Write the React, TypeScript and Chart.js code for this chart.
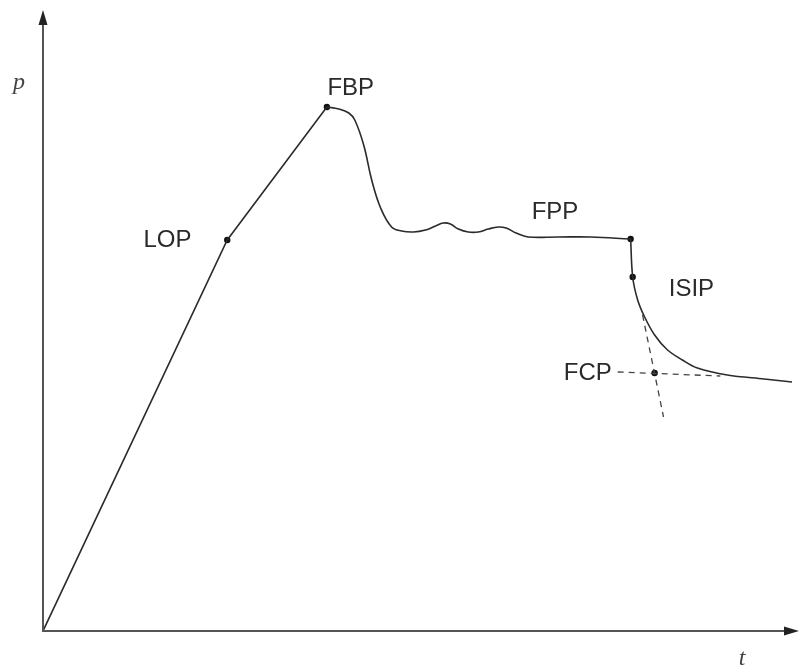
import React, { useEffect, useRef } from "react";
import { Chart, registerables } from "chart.js";

Chart.register(...registerables);

// Pressure (p) versus time (t) during a fracture test, normalised to 0–100.
const riseT = [0, 24.37, 37.55];
const riseP = [0, 62.96, 84.38];

const plateauT = [37.55, 39.13, 40.45, 41.24, 42.42, 43.48, 44.66, 46.11, 47.43, 49.01, 50.59, 51.91, 52.96, 53.89, 54.94, 56.26, 57.58, 58.89, 60.21, 61.26, 62.58, 64.16, 68.12, 72.46, 77.73];
const plateauP = [84.38, 84.06, 83.41, 82.29, 78.26, 72.62, 68.12, 65.06, 64.41, 64.25, 64.57, 65.22, 65.7, 65.54, 64.73, 64.25, 64.25, 64.73, 65.06, 64.9, 64.09, 63.45, 63.45, 63.45, 63.12];

const declineT = [77.73, 78.0, 78.66, 79.58, 80.9, 82.61, 84.58, 86.56, 90.51, 95.39, 99.08];
const declineP = [63.12, 57.0, 53.3, 50.56, 47.67, 45.25, 43.64, 42.35, 41.22, 40.58, 40.1];

// Tangent construction lines meeting at the closure point
const tangentHT = [76.02, 89.59];
const tangentHP = [41.71, 41.06];
const tangentVT = [79.31, 82.08];
const tangentVP = [50.89, 34.46];

// Marked points on the curve
const markT = [24.37, 37.55, 77.73, 78.0, 80.9];
const markP = [62.96, 84.38, 63.12, 57.0, 41.55];

// Point labels and where they are written
const labelText = ["LOP", "FBP", "FPP", "ISIP", "FCP"];
const labelT = [16.47, 40.71, 67.72, 85.77, 72.07];
const labelP = [62.96, 87.44, 67.47, 55.07, 41.55];

const xAxisTitle = "t";
const yAxisTitle = "p";

const zip = (xs: number[], ys: number[]) => xs.map((x, i) => ({ x, y: ys[i] }));

const axesPlugin = {
  id: "arrowAxes",
  afterDraw(chart: any) {
    const { ctx, chartArea } = chart;
    const { left, right, top, bottom } = chartArea;
    ctx.save();
    ctx.strokeStyle = "#555";
    ctx.fillStyle = "#222";
    ctx.lineWidth = 2;
    // vertical axis
    ctx.beginPath();
    ctx.moveTo(left, bottom + 1);
    ctx.lineTo(left, top + 12);
    ctx.stroke();
    ctx.beginPath();
    ctx.moveTo(left, top);
    ctx.lineTo(left - 4.5, top + 15);
    ctx.lineTo(left + 4.5, top + 15);
    ctx.closePath();
    ctx.fill();
    // horizontal axis
    ctx.beginPath();
    ctx.moveTo(left - 1, bottom);
    ctx.lineTo(right - 12, bottom);
    ctx.stroke();
    ctx.beginPath();
    ctx.moveTo(right, bottom);
    ctx.lineTo(right - 15, bottom - 4.5);
    ctx.lineTo(right - 15, bottom + 4.5);
    ctx.closePath();
    ctx.fill();

    // axis titles
    ctx.fillStyle = "#444";
    ctx.font = "italic 24px 'Liberation Serif', 'DejaVu Serif', serif";
    ctx.textAlign = "center";
    ctx.textBaseline = "middle";
    ctx.fillText(yAxisTitle, 19, 83);
    ctx.fillText(xAxisTitle, 742, 659);

    // point labels
    const xs = chart.scales.x;
    const ys = chart.scales.y;
    ctx.fillStyle = "#2a2a2a";
    ctx.font = "24px 'Liberation Sans', Arial, sans-serif";
    labelText.forEach((txt, i) => {
      ctx.fillText(txt, xs.getPixelForValue(labelT[i]), ys.getPixelForValue(labelP[i]));
    });
    ctx.restore();
  },
};

export default function App() {
  const ref = useRef<HTMLCanvasElement | null>(null);

  useEffect(() => {
    document.body.style.margin = "0";
    const canvas = ref.current;
    if (!canvas) return;
    const lineColor = "#2b2b2b";
    const chart = new Chart(canvas, {
      type: "line",
      data: {
        datasets: [
          { data: zip(riseT, riseP), borderColor: lineColor, borderWidth: 1.6, pointRadius: 0, tension: 0 },
          { data: zip(plateauT, plateauP), borderColor: lineColor, borderWidth: 1.6, pointRadius: 0, tension: 0.4 },
          { data: zip(declineT, declineP), borderColor: lineColor, borderWidth: 1.6, pointRadius: 0, tension: 0.35 },
          { data: zip(tangentHT, tangentHP), borderColor: "#444", borderWidth: 1.3, borderDash: [6, 5], pointRadius: 0 },
          { data: zip(tangentVT, tangentVP), borderColor: "#444", borderWidth: 1.3, borderDash: [6, 5], pointRadius: 0 },
          {
            data: zip(markT, markP),
            showLine: false,
            pointRadius: 3.2,
            pointBackgroundColor: "#111",
            pointBorderColor: "#111",
            borderWidth: 0,
          },
        ],
      },
      options: {
        animation: false,
        responsive: false,
        parsing: true,
        layout: { padding: { left: 43, top: 10, right: 1, bottom: 40 } },
        plugins: { legend: { display: false }, tooltip: { enabled: false } },
        scales: {
          x: { type: "linear", min: 0, max: 100, display: false },
          y: { type: "linear", min: 0, max: 100, display: false },
        },
      },
      plugins: [axesPlugin],
    });
    return () => chart.destroy();
  }, []);

  return <canvas ref={ref} width={803} height={671} style={{ display: "block" }} />;
}
